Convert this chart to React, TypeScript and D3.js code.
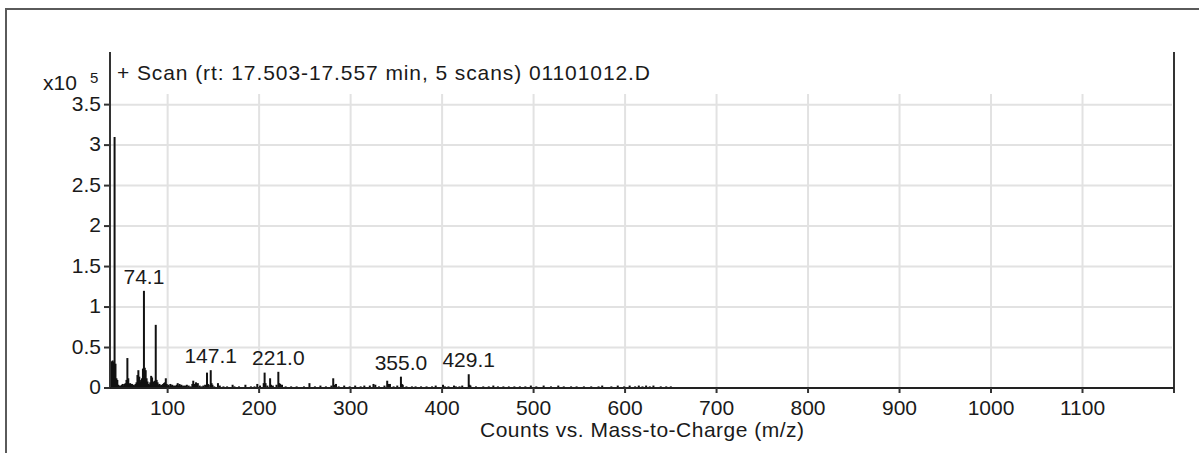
import React from "react";
import * as d3 from "d3";

// Centroided mass spectrum, abundance in units of 1e5 counts
const mzValues = [
  38, 39, 40, 41, 42, 43, 44, 45, 46, 47, 48, 49, 50, 51, 52, 53, 54, 55, 56, 57,
  58, 59, 60, 61, 62, 63, 64, 65, 66, 67, 68, 69, 70, 71, 72, 73, 74.1, 75, 76, 77,
  78, 79, 80, 81, 82, 83, 84, 85, 86, 87, 88, 89, 90, 91, 92, 93, 94, 95, 96, 97,
  98, 99, 100, 101, 102, 103, 104, 105, 106, 107, 108, 109, 110, 111, 112, 113, 114, 115, 116, 117,
  119, 121, 123, 125, 127, 128, 129, 130, 131, 132, 133, 135, 137, 139, 141, 143, 144, 145, 147.1, 148,
  149, 151, 155, 157, 161, 165, 171, 173, 178, 185, 191, 195, 198, 201, 205, 206, 207, 209, 212, 213,
  215, 219, 221.0, 222, 223, 225, 229, 235, 241, 249, 255, 261, 267, 273, 279, 281, 282, 284, 287, 293,
  299, 305, 311, 315, 321, 325, 327, 331, 337, 340, 341, 343, 347, 351, 355.0, 356, 357, 361, 367, 371,
  377, 383, 389, 393, 401, 403, 407, 413, 415, 419, 422, 429.1, 430, 431, 437, 445, 451, 456, 461, 467,
  473, 479, 485, 491, 497, 503, 511, 519, 527, 533, 541, 547, 555, 563, 571, 575, 585, 592, 599, 605,
  611, 615, 619, 623, 627, 631, 639, 645, 650,
];
const abundance = [
  0.05, 0.33, 0.34, 0.32, 3.1, 0.3, 0.12, 0.1, 0.04, 0.03, 0.02, 0.03, 0.04, 0.05, 0.03, 0.05, 0.06, 0.1, 0.37, 0.12,
  0.05, 0.06, 0.04, 0.05, 0.03, 0.04, 0.03, 0.05, 0.07, 0.16, 0.22, 0.14, 0.08, 0.1, 0.12, 0.24, 1.2, 0.25, 0.22, 0.12,
  0.08, 0.05, 0.04, 0.07, 0.15, 0.13, 0.08, 0.06, 0.09, 0.78, 0.1, 0.07, 0.04, 0.05, 0.03, 0.04, 0.03, 0.05, 0.06, 0.07,
  0.12, 0.05, 0.03, 0.04, 0.02, 0.05, 0.03, 0.04, 0.02, 0.03, 0.02, 0.03, 0.04, 0.06, 0.03, 0.05, 0.03, 0.04, 0.02, 0.03,
  0.03, 0.04, 0.03, 0.02, 0.05, 0.09, 0.05, 0.04, 0.07, 0.04, 0.06, 0.03, 0.02, 0.03, 0.04, 0.19, 0.05, 0.04, 0.22, 0.06,
  0.04, 0.02, 0.06, 0.03, 0.02, 0.02, 0.04, 0.02, 0.02, 0.04, 0.02, 0.02, 0.05, 0.03, 0.06, 0.19, 0.06, 0.03, 0.12, 0.04,
  0.03, 0.04, 0.2, 0.06, 0.05, 0.04, 0.02, 0.02, 0.02, 0.02, 0.06, 0.02, 0.03, 0.02, 0.03, 0.12, 0.04, 0.05, 0.02, 0.03,
  0.02, 0.03, 0.02, 0.03, 0.03, 0.05, 0.04, 0.02, 0.03, 0.09, 0.05, 0.05, 0.02, 0.03, 0.14, 0.05, 0.04, 0.02, 0.02, 0.02,
  0.02, 0.02, 0.02, 0.03, 0.04, 0.02, 0.02, 0.03, 0.02, 0.02, 0.03, 0.17, 0.04, 0.03, 0.02, 0.02, 0.02, 0.03, 0.02, 0.02,
  0.02, 0.02, 0.02, 0.02, 0.03, 0.02, 0.03, 0.02, 0.03, 0.02, 0.02, 0.02, 0.02, 0.02, 0.02, 0.03, 0.02, 0.03, 0.02, 0.03,
  0.02, 0.03, 0.02, 0.03, 0.02, 0.03, 0.02, 0.02, 0.02,
];

// Annotated ions
const labelledMz = [74.1, 147.1, 221.0, 355.0, 429.1];

const xTicks = [100, 200, 300, 400, 500, 600, 700, 800, 900, 1000, 1100];
const yTicks = [0, 0.5, 1, 1.5, 2, 2.5, 3, 3.5];
const yTickLabels = ["0", "0.5", "1", "1.5", "2", "2.5", "3", "3.5"];

const title = "+ Scan (rt: 17.503-17.557 min, 5 scans) 01101012.D";
const xTitle = "Counts vs. Mass-to-Charge (m/z)";

const W = 1199;
const H = 453;
const plot = { left: 110, right: 1174, top: 52, bottom: 388 };
const font = "'Liberation Sans', Arial, sans-serif";

export default function App() {
  const x = d3.scaleLinear().domain([37, 1200]).range([plot.left, plot.right]);
  const y = d3.scaleLinear().domain([0, 4.15]).range([plot.bottom, plot.top]);
  const gridTop = y(3.63);

  const peaks = mzValues.map((mz, i) => ({ mz, v: abundance[i] }));
  const labels = labelledMz.map((mz) => ({ mz, v: abundance[mzValues.indexOf(mz)] }));

  return (
    <svg
      width={W}
      height={H}
      style={{ position: "absolute", left: 0, top: 0, background: "#fff" }}
      fontFamily={font}
    >
      {/* outer frame */}
      <line x1={5} x2={W} y1={9} y2={9} stroke="#5a5a5a" strokeWidth={2} />
      <line x1={6} x2={6} y1={8} y2={H} stroke="#5a5a5a" strokeWidth={2} />

      {/* grid */}
      {xTicks.map((t) => (
        <line key={"gx" + t} x1={x(t)} x2={x(t)} y1={gridTop} y2={plot.bottom} stroke="#e2e2e2" strokeWidth={2} />
      ))}
      {yTicks.slice(1).map((t) => (
        <line key={"gy" + t} x1={plot.left} x2={plot.right - 2} y1={y(t)} y2={y(t)} stroke="#e2e2e2" strokeWidth={2} />
      ))}

      {/* spectrum sticks */}
      {peaks.map((p, i) => (
        <line key={"p" + i} x1={x(p.mz)} x2={x(p.mz)} y1={y(0)} y2={y(p.v)} stroke="#111" strokeWidth={2} />
      ))}

      {/* axes */}
      <line x1={plot.left} x2={plot.left} y1={plot.top} y2={plot.bottom + 1} stroke="#333" strokeWidth={2} />
      <line x1={plot.right} x2={plot.right} y1={plot.top} y2={plot.bottom + 5} stroke="#333" strokeWidth={2} />
      <line x1={plot.left} x2={plot.right} y1={plot.bottom} y2={plot.bottom} stroke="#222" strokeWidth={2} />

      {xTicks.map((t) => (
        <g key={"xt" + t}>
          <line x1={x(t)} x2={x(t)} y1={plot.bottom} y2={plot.bottom + 5} stroke="#333" strokeWidth={2} />
          <text x={x(t)} y={415} textAnchor="middle" fontSize={21} fill="#1a1a1a">
            {t}
          </text>
        </g>
      ))}
      {yTicks.map((t, i) => (
        <g key={"yt" + t}>
          <line x1={plot.left - 6} x2={plot.left} y1={y(t)} y2={y(t)} stroke="#333" strokeWidth={2} />
          <text x={101} y={y(t) + 6} textAnchor="end" fontSize={21} fill="#1a1a1a">
            {yTickLabels[i]}
          </text>
        </g>
      ))}

      {/* exponent */}
      <text x={43} y={90} fontSize={21} fill="#1a1a1a">x10</text>
      <text x={90} y={83} fontSize={15} fill="#1a1a1a">5</text>

      {/* title */}
      <text x={117} y={80} fontSize={21} fill="#1a1a1a" textLength={533} lengthAdjust="spacing">
        {title}
      </text>

      {/* peak annotations */}
      {labels.map((l) => (
        <text key={"l" + l.mz} x={x(l.mz)} y={y(l.v) - 7} textAnchor="middle" fontSize={21} fill="#1a1a1a">
          {l.mz.toFixed(1)}
        </text>
      ))}

      {/* x axis title */}
      <text
        x={(plot.left + plot.right) / 2}
        y={437}
        textAnchor="middle"
        fontSize={21}
        fill="#1a1a1a"
        textLength={324}
        lengthAdjust="spacing"
      >
        {xTitle}
      </text>
    </svg>
  );
}
